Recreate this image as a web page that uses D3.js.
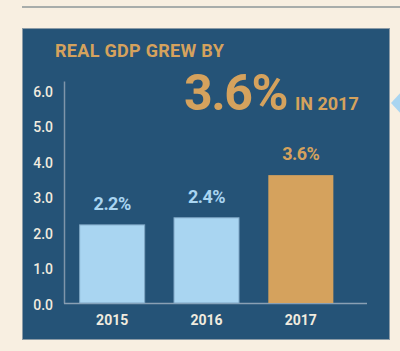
<!DOCTYPE html>
<html>
<head>
<meta charset="utf-8">
<script src="https://cdn.jsdelivr.net/npm/d3@7"></script>
<style>
  html, body { margin: 0; padding: 0; background: #f8efe1; }
  svg { display: block; }
  text { font-family: Roboto, "Noto Sans", sans-serif; }
</style>
</head>
<body>
<svg id="chart" width="400" height="351"></svg>
<script>
// chart data
var years = ["2015", "2016", "2017"];
var growth = [2.2, 2.4, 3.6];
var yTicks = [0, 1, 2, 3, 4, 5, 6];
var titleText = "REAL GDP GREW BY";
var bigText = "3.6%";
var bigSub = "IN 2017";

var gold = "#d5a25d",
    lightBlue = "#a9d5f1",
    panelBlue = "#255377",
    cream = "#f1ebdf";

var svg = d3.select("#chart");

// thin rule across the top
svg.append("rect")
  .attr("x", 22).attr("y", 6)
  .attr("width", 378).attr("height", 2)
  .style("fill", "#a8adab");

// blue panel
svg.append("rect")
  .attr("x", 22.5).attr("y", 28.5)
  .attr("width", 367).attr("height", 311)
  .style("fill", panelBlue)
  .style("stroke", "#8c9ba6")
  .style("stroke-width", 1);

// little pointer on the right
svg.append("path")
  .attr("d", "M391,103 L402,91 L402,115 Z")
  .style("fill", lightBlue);

// headline
svg.append("text")
  .attr("x", 55).attr("y", 57)
  .style("font-size", "18px")
  .style("font-weight", "bold")
  .style("fill", gold)
  .style("letter-spacing", "0.3px")
  .text(titleText);

svg.append("text")
  .attr("x", 184).attr("y", 110)
  .style("font-size", "50px")
  .style("font-weight", "bold")
  .style("letter-spacing", "-1.5px")
  .style("fill", gold)
  .text(bigText);

svg.append("text")
  .attr("x", 295).attr("y", 110)
  .style("font-size", "18px")
  .style("font-weight", "bold")
  .style("fill", gold)
  .text(bigSub);

// scales
var x = d3.scaleBand()
  .domain(years)
  .range([65, 348])
  .paddingInner(0.3)
  .paddingOuter(0.15);

var y = d3.scaleLinear()
  .domain([0, 6.25])
  .range([303, 81]);

// y axis
var yAxis = svg.append("g")
  .attr("transform", "translate(64,0)")
  .call(d3.axisLeft(y).tickValues(yTicks).tickSize(0).tickPadding(11)
    .tickFormat(d3.format(".1f")));
yAxis.select(".domain").style("stroke", "#7f95aa").style("stroke-width", 1.5);
yAxis.selectAll("text")
  .attr("dy", "0.45em")
  .style("font-size", "14px")
  .style("font-weight", 500)
  .style("fill", cream)
  .style("font-family", "Roboto, sans-serif");

// x axis
var xAxis = svg.append("g")
  .attr("transform", "translate(0,303)")
  .call(d3.axisBottom(x).tickSize(0).tickPadding(12));
xAxis.select(".domain")
  .attr("d", "M64,0.5H367")
  .style("stroke", "#8aa0b4").style("stroke-width", 1.5);
xAxis.selectAll("text")
  .style("font-size", "14px")
  .style("font-weight", "bold")
  .style("fill", cream)
  .style("font-family", "Roboto, sans-serif");

// bars
var bars = svg.selectAll(".bar")
  .data(growth)
  .enter().append("rect")
  .attr("class", "bar")
  .attr("x", function (d, i) { return x(years[i]) + 0.5; })
  .attr("y", function (d) { return y(d); })
  .attr("width", x.bandwidth() - 1)
  .attr("height", function (d) { return y(0) - y(d); })
  .style("fill", function (d, i) { return i == growth.length - 1 ? gold : lightBlue; })
  .style("stroke", function (d, i) { return i == growth.length - 1 ? "none" : "#7ea5c3"; })
  .style("stroke-width", 1);

// value labels
svg.selectAll(".val")
  .data(growth)
  .enter().append("text")
  .attr("class", "val")
  .attr("x", function (d, i) { return x(years[i]) + x.bandwidth() / 2; })
  .attr("y", function (d) { return y(d) - 15; })
  .attr("text-anchor", "middle")
  .style("font-size", "18px")
  .style("font-weight", "bold")
  .style("letter-spacing", "-0.5px")
  .style("fill", function (d, i) { return i == growth.length - 1 ? gold : lightBlue; })
  .text(function (d) { return d.toFixed(1) + "%"; });
</script>
</body>
</html>
